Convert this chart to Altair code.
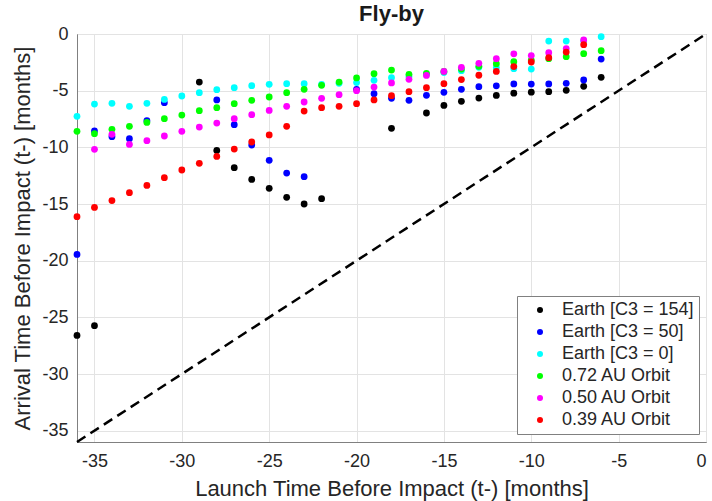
import altair as alt
import pandas as pd

series_names = ["Earth [C3 = 154]", "Earth [C3 = 50]", "Earth [C3 = 0]",
                "0.72 AU Orbit", "0.50 AU Orbit", "0.39 AU Orbit"]
series_colors = ["#000000", "#0000ff", "#00ffff", "#00ff00", "#ff00ff", "#ff0000"]

black_x = [-36, -35, -29, -28, -27, -26, -25, -24, -23, -22, -18, -16, -15, -14, -13, -12, -11, -10, -9, -8, -7, -6]
black_y = [-26.6, -25.74, -4.24, -10.27, -11.8, -12.83, -13.62, -14.41, -15.0, -14.53, -8.32, -6.97, -6.3, -5.94, -5.65, -5.42, -5.22, -5.13, -5.09, -4.97, -4.62, -3.82]

blue_x = [-36, -35, -34, -33, -32, -31, -28, -27, -26, -25, -24, -23, -20, -19, -18, -17, -16, -15, -14, -13, -12, -11, -10, -9, -8, -7, -6]
blue_y = [-19.45, -8.56, -9.06, -9.24, -7.65, -6.06, -5.82, -8.0, -9.8, -11.15, -12.27, -12.59, -4.88, -5.27, -5.68, -5.85, -5.41, -5.15, -4.88, -4.65, -4.57, -4.41, -4.42, -4.41, -4.35, -4.06, -2.21]

cyan_x = [-36, -35, -34, -33, -32, -31, -30, -29, -28, -27, -26, -25, -24, -23, -22, -21, -20, -19, -18, -17, -16, -15, -14, -13, -12, -11, -10, -9, -8, -7, -6]
cyan_y = [-7.26, -6.18, -6.12, -6.38, -6.12, -5.77, -5.47, -5.18, -4.91, -4.74, -4.56, -4.44, -4.38, -4.38, -4.44, -4.35, -4.29, -4.09, -3.85, -3.75, -3.55, -3.4, -3.24, -2.94, -2.95, -3.06, -3.09, -0.62, -0.62, -0.6, -0.24]

green_x = [-36, -35, -34, -33, -32, -31, -30, -29, -28, -27, -26, -25, -24, -23, -22, -21, -20, -19, -18, -17, -16, -15, -14, -13, -12, -11, -10, -9, -8, -7, -6]
green_y = [-8.59, -8.8, -8.41, -8.15, -7.8, -7.47, -7.15, -6.77, -6.5, -6.15, -5.85, -5.56, -5.18, -4.88, -4.53, -4.24, -3.88, -3.5, -3.18, -3.56, -3.47, -3.3, -3.09, -2.85, -2.62, -2.44, -2.3, -2.18, -2.0, -1.74, -1.47]

magenta_x = [-35, -34, -33, -32, -31, -30, -29, -28, -27, -26, -25, -24, -23, -22, -21, -20, -19, -18, -17, -16, -15, -14, -13, -12, -11, -10, -9, -8, -7]
magenta_y = [-10.18, -8.85, -9.74, -9.41, -9.0, -8.59, -8.21, -7.86, -7.47, -7.12, -6.74, -6.38, -6.0, -5.68, -5.35, -5.0, -4.68, -4.32, -4.0, -3.66, -3.3, -2.94, -2.59, -2.18, -1.75, -1.9, -1.65, -1.29, -0.53]

red_x = [-36, -35, -34, -33, -32, -31, -30, -29, -28, -27, -26, -25, -24, -23, -22, -21, -20, -19, -18, -17, -16, -15, -14, -13, -12, -11, -10, -9, -8, -7]
red_y = [-16.12, -15.3, -14.7, -14.0, -13.36, -12.68, -12.0, -11.41, -10.8, -10.15, -9.53, -8.91, -8.15, -6.8, -6.5, -6.38, -6.15, -5.82, -5.44, -5.09, -4.74, -4.38, -4.02, -3.64, -3.3, -2.87, -2.47, -2.09, -1.59, -0.94]

diag_x = [-36, 0]
diag_y = [-36, 0]
tick_values = [-35, -30, -25, -20, -15, -10, -5, 0]

xs = [black_x, blue_x, cyan_x, green_x, magenta_x, red_x]
ys = [black_y, blue_y, cyan_y, green_y, magenta_y, red_y]
rows = []
for i, (name, sx, sy) in enumerate(zip(series_names, xs, ys)):
    for a, b in zip(sx, sy):
        rows.append({"launch": a, "arrival": b, "series": name, "order": i})
df = pd.DataFrame(rows)
diag_df = pd.DataFrame({"launch": diag_x, "arrival": diag_y})

FONT = "Liberation Sans"
xscale = alt.Scale(domain=[-36, 0], nice=False, zero=False)
yscale = alt.Scale(domain=[-36, 0], nice=False, zero=False)

xaxis = alt.Axis(values=tick_values, title="Launch Time Before Impact (t-) [months]",
                 labelExpr="'' + datum.value", ticks=False, labelPadding=10,
                 titlePadding=8)
yaxis = alt.Axis(values=tick_values, title="Arrival Time Before Impact (t-) [months]",
                 labelExpr="'' + datum.value", ticks=False, labelPadding=9,
                 titlePadding=7)

diag = alt.Chart(diag_df).mark_line(color="black", strokeDash=[10, 6], strokeWidth=2.5).encode(
    x=alt.X("launch:Q", scale=xscale, axis=xaxis),
    y=alt.Y("arrival:Q", scale=yscale, axis=yaxis),
)

points = alt.Chart(df).mark_circle(size=46, opacity=1).encode(
    x=alt.X("launch:Q", scale=xscale, axis=xaxis),
    y=alt.Y("arrival:Q", scale=yscale, axis=yaxis),
    color=alt.Color("series:N",
                    scale=alt.Scale(domain=series_names, range=series_colors),
                    legend=alt.Legend(title=None, orient="none", legendX=440, legendY=262,
                                      direction="vertical", symbolType="circle",
                                      symbolSize=36, symbolOffset=9, labelOffset=13,
                                      labelFontSize=18, labelFont=FONT, labelColor="#262626",
                                      rowPadding=4, padding=5, strokeColor="#808080",
                                      fillColor="white", labelLimit=300)),
    order=alt.Order("order:Q"),
)

chart = alt.layer(diag, points).properties(
    width=629, height=408,
    autosize="none",
    background="white",
    padding={"left": 77, "top": 34, "right": 6, "bottom": 59},
    title=alt.TitleParams("Fly-by", fontSize=22, fontWeight="bold", font=FONT,
                          color="#1a1a1a", anchor="middle", offset=-1),
).configure_view(
    stroke="#808080", strokeWidth=1
).configure_axis(
    labelFont=FONT, titleFont=FONT, labelFontSize=18, titleFontSize=22,
    labelColor="#262626", titleColor="#262626", titleFontWeight="normal",
    gridColor="#e3e3e3", domainColor="#808080", grid=True
)

chart.save("out.html", embed_options={"renderer": "svg", "actions": False})
